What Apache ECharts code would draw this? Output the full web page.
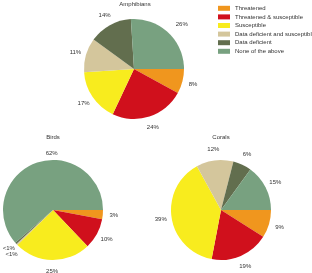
<!DOCTYPE html>
<html>
<head>
<meta charset="utf-8">
<script src="https://cdn.jsdelivr.net/npm/echarts@6/dist/echarts.min.js"></script>
<style>
  html, body { margin: 0; padding: 0; background: #fff; }
  #chart { width: 312px; height: 273px; }
</style>
</head>
<body>
<div id="chart"></div>
<script>
var categories = ['Threatened', 'Threatened & susceptible', 'Susceptible',
    'Data deficient and susceptible', 'Data deficient', 'None of the above'];
var colors = ['#f0961e', '#d0101c', '#f8ec1e', '#d4c69c', '#626e4e', '#78a180'];

var amphibians = [8, 24, 17, 11, 14, 26];
var birds = [3, 10, 25, 0.5, 0.5, 62];
var corals = [9, 19, 39, 12, 6, 15];

var font = '"Liberation Sans", Arial, sans-serif';
var textColor = '#333';

// small nudges so labels sit where the original put them
var amphibianNudge = { 5: { padding: [14, 0, 0, 12] } };
var birdNudge = {
    2: { padding: [0, 0, 6, 0] },
    3: { padding: [2, 0, 0, 0], lineHeight: 8, formatter: '<1%\n ' },
    4: { padding: [2, 0, 0, 8], lineHeight: 8, formatter: ' \n<1%' },
    5: { padding: [0, 0, 2, 40] }
};
var coralNudge = {};

function pieSeries(values, center) {
    return {
        type: 'pie',
        center: center,
        radius: 50,
        startAngle: 0,
        clockwise: true,
        silent: true,
        itemStyle: { borderWidth: 0 },
        label: { show: false },
        labelLine: { show: false },
        data: values.map(function(v, i) {
            return { name: categories[i], value: v };
        })
    };
}

// transparent ring whose inside labels sit just outside the pie
function labelRing(values, center, nudge) {
    return {
        type: 'pie',
        center: center,
        radius: [52, 64],
        startAngle: 0,
        clockwise: true,
        silent: true,
        avoidLabelOverlap: false,
        legendHoverLink: false,
        itemStyle: { color: 'transparent', borderWidth: 0 },
        label: {
            position: 'inside',
            fontFamily: font,
            fontSize: 6,
            color: textColor,
            formatter: function(p) {
                return p.value < 1 ? '<1%' : p.value + '%';
            }
        },
        labelLayout: { hideOverlap: false },
        labelLine: { show: false },
        data: values.map(function(v, i) {
            var d = { name: categories[i], value: v };
            if (nudge[i]) d.label = nudge[i];
            return d;
        })
    };
}

var titleStyle = { fontFamily: font, fontSize: 6, fontWeight: 'normal', color: textColor };

var chart = echarts.init(document.getElementById('chart'));
chart.setOption({
    color: colors,
    animation: false,
    title: [
        { text: 'Amphibians', left: 135, top: 1, padding: 0, textAlign: 'center', textStyle: titleStyle },
        { text: 'Birds', left: 53, top: 134, padding: 0, textAlign: 'center', textStyle: titleStyle },
        { text: 'Corals', left: 221, top: 134, padding: 0, textAlign: 'center', textStyle: titleStyle }
    ],
    legend: {
        orient: 'vertical',
        left: 218,
        top: 4,
        itemWidth: 12,
        itemHeight: 5,
        itemGap: 0,
        padding: 0,
        icon: 'rect',
        selectedMode: false,
        data: categories,
        textStyle: { fontFamily: font, fontSize: 6, lineHeight: 8.6, color: textColor }
    },
    series: [
        pieSeries(amphibians, [134, 69]),
        pieSeries(birds, [53, 210]),
        pieSeries(corals, [221, 210]),
        labelRing(amphibians, [134, 69], amphibianNudge),
        labelRing(birds, [53, 210], birdNudge),
        labelRing(corals, [221, 210], coralNudge)
    ]
});
</script>
</body>
</html>
